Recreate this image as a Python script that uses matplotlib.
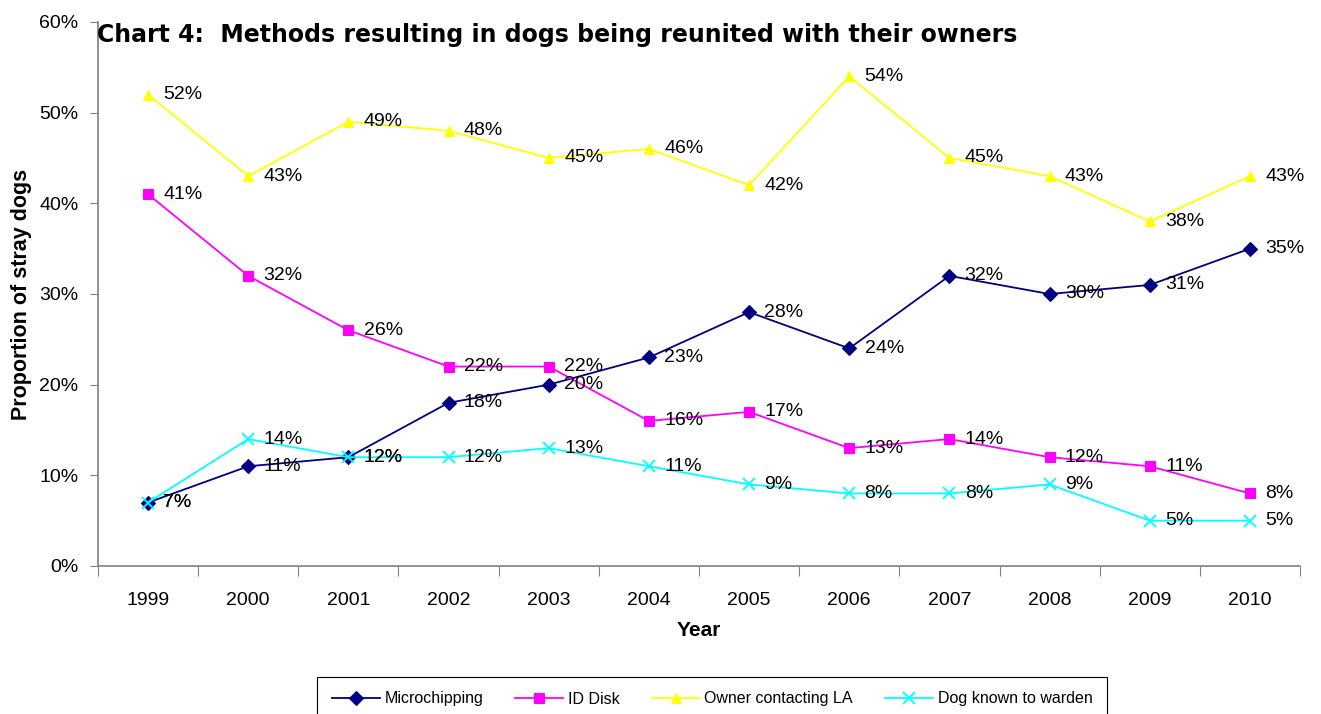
import numpy as np
import matplotlib
matplotlib.use("Agg")
import matplotlib.pyplot as plt

plt.rcParams["font.family"] = ["Liberation Sans", "DejaVu Sans"]

# Data
years = ["1999", "2000", "2001", "2002", "2003", "2004",
         "2005", "2006", "2007", "2008", "2009", "2010"]
microchipping = [7, 11, 12, 18, 20, 23, 28, 24, 32, 30, 31, 35]
id_disk = [41, 32, 26, 22, 22, 16, 17, 13, 14, 12, 11, 8]
owner_contacting = [52, 43, 49, 48, 45, 46, 42, 54, 45, 43, 38, 43]
dog_warden = [7, 14, 12, 12, 13, 11, 9, 8, 8, 9, 5, 5]

series = [
    ("Microchipping", microchipping, "#000080", "D"),
    ("ID Disk", id_disk, "#FF00FF", "s"),
    ("Owner contacting LA", owner_contacting, "#FFFF00", "^"),
    ("Dog known to warden", dog_warden, "#00FFFF", "x"),
]

fig = plt.figure(figsize=(13.21, 7.14), dpi=100)
ax = fig.add_axes([98 / 1321, 1 - 566 / 714, 1202 / 1321, 544 / 714])

x = np.arange(len(years))
for name, vals, col, mk in series:
    ms = 7 if mk != "x" else 9
    ax.plot(x, vals, color=col, marker=mk, markersize=ms, linewidth=1.3,
            markeredgewidth=1.3 if mk == "x" else 0.8, label=name, zorder=3)
    for xi, v in zip(x, vals):
        ax.annotate(f"{v}%", (xi, v), xytext=(11, 0), textcoords="offset points",
                    ha="left", va="center", fontsize=14, zorder=5)

ax.set_xlim(-0.5, len(years) - 0.5)
ax.set_ylim(0, 60)
ax.set_yticks(range(0, 61, 10))
ax.set_yticklabels([f"{t}%" for t in range(0, 61, 10)], fontsize=14)

# ticks between categories, labels centred on them
ax.set_xticks(np.arange(-0.5, len(years), 1))
ax.set_xticklabels([])
ax.set_xticks(x, minor=True)
ax.set_xticklabels(years, minor=True, fontsize=14)
ax.tick_params(axis="x", which="major", length=7, direction="out", color="#808080")
ax.tick_params(axis="x", which="minor", length=0, pad=19)
ax.tick_params(axis="y", length=6, direction="out", color="#808080", pad=8)

for s in ["top", "right"]:
    ax.spines[s].set_visible(False)
for s in ["left", "bottom"]:
    ax.spines[s].set_color("#808080")
    ax.spines[s].set_linewidth(1.2)

ax.set_xlabel("Year", fontsize=15, fontweight="bold", labelpad=8)
ax.set_ylabel("Proportion of stray dogs", fontsize=15.5, fontweight="bold", labelpad=5)

fig.text(97 / 1321, 1 - 35 / 714, "Chart 4:  Methods resulting in dogs being reunited with their owners",
         fontsize=17, fontweight="bold", family="DejaVu Sans", ha="left", va="center")

leg = fig.legend(loc="center", bbox_to_anchor=(712 / 1321, 1 - 699 / 714), ncol=4,
                 fancybox=False, edgecolor="black", framealpha=1, fontsize=11.5,
                 handlelength=3, columnspacing=2.0, handletextpad=0.3, borderpad=0.9)
leg.get_frame().set_linewidth(0.8)

fig.savefig("out.png", dpi=100)
